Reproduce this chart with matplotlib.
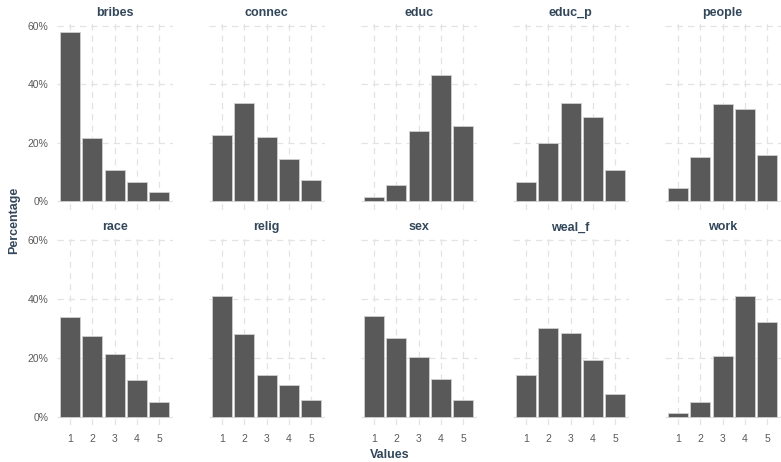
import numpy as np
import matplotlib.pyplot as plt

plt.rcParams['font.family'] = ['Liberation Sans', 'DejaVu Sans']

cats = [1, 2, 3, 4, 5]
names = ['bribes', 'connec', 'educ', 'educ_p', 'people',
         'race', 'relig', 'sex', 'weal_f', 'work']

bribes = [58.0, 21.7, 10.5, 6.4, 3.0]
connec = [22.6, 33.5, 21.9, 14.5, 7.2]
educ = [1.3, 5.5, 24.1, 43.2, 25.7]
educ_p = [6.6, 20.0, 33.7, 28.9, 10.6]
people = [4.3, 15.1, 33.4, 31.5, 15.7]
race = [33.8, 27.3, 21.2, 12.4, 5.1]
relig = [40.9, 28.2, 14.1, 10.8, 5.8]
sex = [34.2, 26.8, 20.2, 12.9, 5.6]
weal_f = [14.1, 30.2, 28.5, 19.3, 7.7]
work = [1.4, 5.0, 20.5, 40.9, 32.2]

vals = [bribes, connec, educ, educ_p, people, race, relig, sex, weal_f, work]
yticks = [0, 20, 40, 60]

W, H = 781, 462
fig = plt.figure(figsize=(W / 100, H / 100), dpi=100)

title_col = '#33475b'
tick_col = '#5a5a5a'
grid_col = '#e3e3e3'

rows_y = [(23.4, 209.5), (237.4, 425.2)]
ymax = max(max(v) for v in vals)
ylo, yhi = -0.05 * ymax, ymax * 1.05

for i, (name, v) in enumerate(zip(names, vals)):
    r, c = divmod(i, 5)
    left = 56.6 + 152 * c
    top, bot = rows_y[r]
    ax = fig.add_axes([left / W, 1 - bot / H, 116 / W, (bot - top) / H])
    ax.bar(cats, v, width=0.9, color='#595959', edgecolor='#d0d0d0',
           linewidth=0.6, zorder=3)
    ax.set_xlim(0.4, 5.6)
    ax.set_ylim(ylo, yhi)
    ax.set_xticks(cats)
    ax.set_yticks(yticks)
    ax.grid(True, color=grid_col, linestyle=(0, (5, 4)), linewidth=0.9, zorder=0)
    for s in ax.spines.values():
        s.set_visible(False)
    ax.tick_params(length=0, colors=tick_col, labelsize=7.5, pad=6)
    if c == 0:
        ax.set_yticklabels([f'{t}%' for t in yticks])
    else:
        ax.set_yticklabels([])
    if r == 1:
        ax.set_xticklabels([str(x) for x in cats])
    else:
        ax.set_xticklabels([])
    ax.set_title(name, fontsize=9, fontweight='bold', color=title_col, pad=5)

fig.text(14 / W, 1 - 220 / H, 'Percentage', rotation=90, ha='center', va='center',
         fontsize=9, fontweight='bold', color=title_col)
fig.text(390 / W, 1 - 455 / H, 'Values', ha='center', va='center',
         fontsize=9, fontweight='bold', color=title_col)

fig.savefig('out.png', dpi=100, facecolor='white')
